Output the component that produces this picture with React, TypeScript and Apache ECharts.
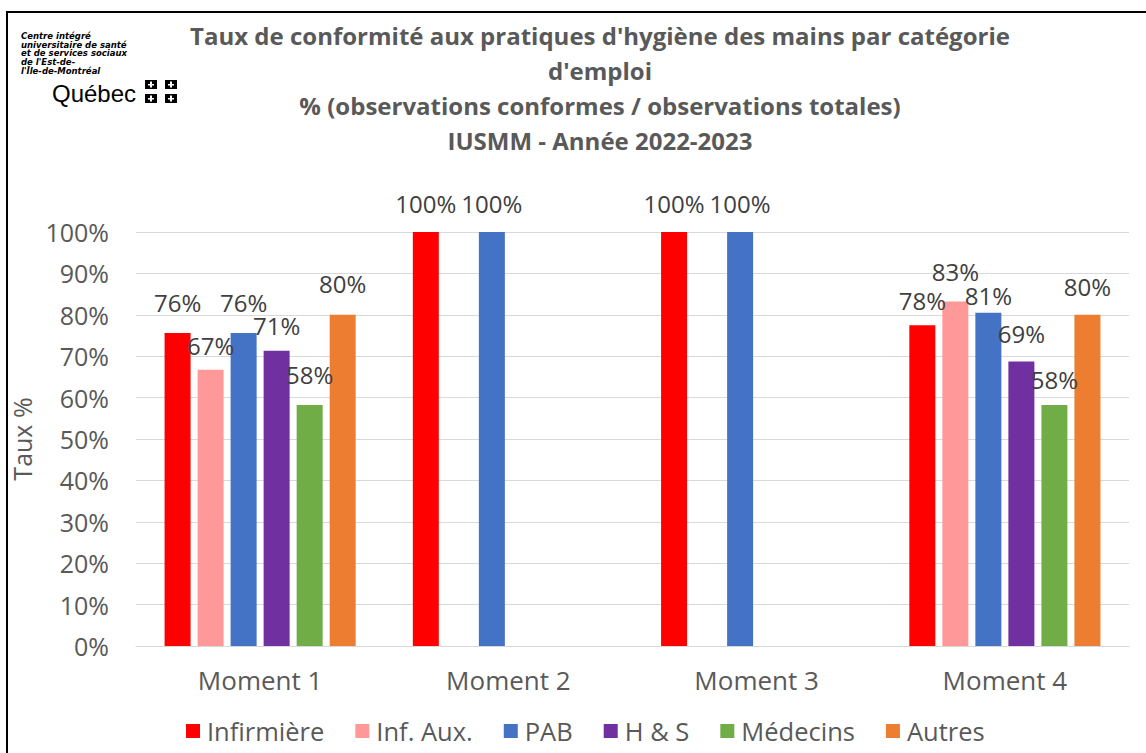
import React, { useEffect, useRef } from "react";
import * as echarts from "echarts";

const categories = ["Moment 1", "Moment 2", "Moment 3", "Moment 4"];
const seriesNames = ["Infirmière", "Inf. Aux.", "PAB", "H & S", "Médecins", "Autres"];
const infirmiere = [75.6, 100, 100, 77.5];
const infAux = [66.7, null, null, 83.2];
const pab = [75.6, 100, 100, 80.5];
const hs = [71.3, null, null, 68.7];
const medecins = [58.2, null, null, 58.2];
const autres = [80.0, null, null, 80.0];
const yTicks = [0, 10, 20, 30, 40, 50, 60, 70, 80, 90, 100];
const titleLines = [
  "Taux de conformité aux pratiques d'hygiène des mains par catégorie",
  "d'emploi",
  "% (observations conformes / observations totales)",
  "IUSMM - Année 2022-2023",
];
const logoLines = [
  "Centre intégré",
  "universitaire de santé",
  "et de services sociaux",
  "de l'Est-de-",
  "l'Île-de-Montréal",
];

// label distances above bars (style only), per series then per category
const labelDistances = [
  [19, 17, 17, 13],
  [12, 0, 0, 18],
  [19, 17, 17, 5],
  [13, 0, 0, 16],
  [19, 0, 0, 14],
  [19, 0, 0, 16],
];

const colors = ["#FF0000", "#FF9999", "#4472C4", "#7030A0", "#70AD47", "#ED7D31"];
const FONT = "'Open Sans', sans-serif";

export default function App() {
  const ref = useRef<HTMLDivElement>(null);
  useEffect(() => {
    if (!ref.current) return;
    const chart = echarts.init(ref.current, undefined, { renderer: "svg" });
    const allData = [infirmiere, infAux, pab, hs, medecins, autres];

    const graphics: any[] = [
      {
        type: "rect",
        shape: { x: 7, y: 12, width: 1300, height: 900 },
        style: { fill: "none", stroke: "#000", lineWidth: 2 },
        silent: true,
      },
    ];
    titleLines.forEach((t, i) => {
      graphics.push({
        type: "text",
        x: 600,
        y: 35 + i * 35,
        style: {
          text: t,
          fill: "#595959",
          font: `bold 24px ${FONT}`,
          align: "center",
          verticalAlign: "middle",
        },
      });
    });
    logoLines.forEach((t, i) => {
      graphics.push({
        type: "text",
        x: 21,
        y: 32 + i * 8.6,
        style: {
          text: t,
          fill: "#000",
          font: "italic bold 8.5px 'DejaVu Sans', sans-serif",
          lineHeight: 8.5,
          align: "left",
          verticalAlign: "top",
        },
      });
    });
    graphics.push({
      type: "text",
      x: 52,
      y: 93,
      style: {
        text: "Québec",
        fill: "#000",
        font: "24px 'Liberation Sans', sans-serif",
        align: "left",
        verticalAlign: "middle",
      },
    });
    [
      [145, 80],
      [165, 80],
      [145, 94],
      [165, 94],
    ].forEach(([x, y]) => {
      graphics.push({
        type: "rect",
        shape: { x, y, width: 12, height: 9 },
        style: { fill: "#000" },
      });
      graphics.push({
        type: "rect",
        shape: { x: x + 5, y: y + 1.5, width: 2, height: 6 },
        style: { fill: "#fff" },
      });
      graphics.push({
        type: "rect",
        shape: { x: x + 3, y: y + 4, width: 6, height: 1.5 },
        style: { fill: "#fff" },
      });
    });

    chart.setOption({
      animation: false,
      backgroundColor: "#ffffff",
      textStyle: { fontFamily: FONT },
      color: colors,
      grid: { left: 136, right: 17, top: 232, bottom: 107, containLabel: false },
      legend: {
        data: seriesNames,
        top: 718,
        left: 186,
        padding: 0,
        icon: "rect",
        itemWidth: 14,
        itemHeight: 14,
        itemGap: 31,
        textStyle: {
          fontSize: 25.5,
          color: "#595959",
          fontFamily: FONT,
          padding: [0, 0, 0, 2],
        },
      },
      xAxis: {
        type: "category",
        data: categories,
        axisLine: { lineStyle: { color: "#d9d9d9", width: 1 } },
        axisTick: { show: false },
        axisLabel: { fontSize: 26, color: "#595959", margin: 21, fontFamily: FONT },
      },
      yAxis: {
        type: "value",
        min: 0,
        max: 100,
        interval: 10,
        name: "Taux %",
        nameLocation: "middle",
        nameRotate: 90,
        nameGap: 99,
        nameTextStyle: { fontSize: 25, color: "#595959", fontFamily: FONT },
        axisLabel: {
          fontSize: 25,
          color: "#595959",
          margin: 27,
          fontFamily: FONT,
          formatter: (v: number) => (yTicks.includes(v) ? `${v}%` : ""),
        },
        splitLine: { lineStyle: { color: "#d9d9d9", width: 1 } },
        axisLine: { show: false },
        axisTick: { show: false },
      },
      series: seriesNames.map((name, i) => ({
        name,
        type: "bar",
        data: allData[i].map((v, j) => ({
          value: v,
          label: { distance: labelDistances[i][j] },
        })),
        barWidth: 26,
        barGap: "27%",
        itemStyle: { color: colors[i] },
        label: {
          show: true,
          position: "top",
          fontSize: 24,
          color: "#404040",
          fontFamily: FONT,
          formatter: (p: any) => (p.value == null ? "" : `${Math.round(p.value)}%`),
        },
      })),
      graphic: graphics,
    });
    return () => chart.dispose();
  }, []);
  return (
    <div
      ref={ref}
      style={{ position: "fixed", left: 0, top: 0, width: 1146, height: 753 }}
    />
  );
}
